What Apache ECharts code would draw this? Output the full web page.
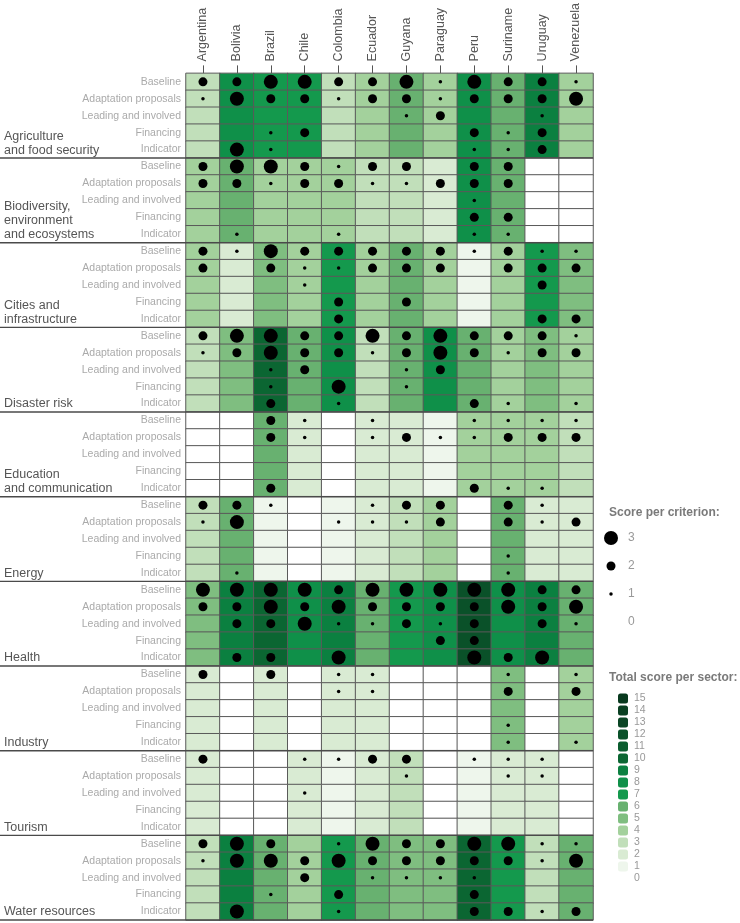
<!DOCTYPE html>
<html>
<head>
<meta charset="utf-8">
<script src="https://cdn.jsdelivr.net/npm/echarts@6/dist/echarts.min.js"></script>
<style>
  body { margin: 0; background: #fff; }
  #chart { width: 740px; height: 923px; }
</style>
</head>
<body>
<div id="chart"></div>
<script>
const countries = ['Argentina', 'Bolivia', 'Brazil', 'Chile', 'Colombia', 'Ecuador', 'Guyana',
    'Paraguay', 'Peru', 'Suriname', 'Uruguay', 'Venezuela'];
const criteria = ['Baseline', 'Adaptation proposals', 'Leading and involved', 'Financing', 'Indicator'];
const sectorNames = [
    ['Agriculture', 'and food security'],
    ['Biodiversity,', 'environment', 'and ecosystems'],
    ['Cities and', 'infrastructure'],
    ['Disaster risk'],
    ['Education', 'and communication'],
    ['Energy'],
    ['Health'],
    ['Industry'],
    ['Tourism'],
    ['Water resources']
];

// score per criterion (0-3), rows = criteria, columns = countries
const agricultureDots = [
    [2, 2, 3, 3, 2, 2, 3, 1, 3, 2, 2, 1],
    [1, 3, 2, 2, 1, 2, 2, 1, 2, 2, 2, 3],
    [0, 0, 0, 0, 0, 0, 1, 2, 0, 0, 1, 0],
    [0, 0, 1, 2, 0, 0, 0, 0, 2, 1, 2, 0],
    [0, 3, 1, 0, 0, 0, 0, 0, 1, 1, 2, 0]
];
const biodiversityDots = [
    [2, 3, 3, 2, 1, 2, 2, 0, 2, 2, 0, 0],
    [2, 2, 1, 2, 2, 1, 1, 2, 2, 2, 0, 0],
    [0, 0, 0, 0, 0, 0, 0, 0, 1, 0, 0, 0],
    [0, 0, 0, 0, 0, 0, 0, 0, 2, 2, 0, 0],
    [0, 1, 0, 0, 1, 0, 0, 0, 1, 1, 0, 0]
];
const citiesDots = [
    [2, 1, 3, 2, 2, 2, 2, 2, 1, 2, 1, 1],
    [2, 0, 2, 1, 1, 2, 2, 2, 0, 2, 2, 2],
    [0, 0, 0, 1, 0, 0, 0, 0, 0, 0, 2, 0],
    [0, 0, 0, 0, 2, 0, 2, 0, 0, 0, 0, 0],
    [0, 0, 0, 0, 2, 0, 0, 0, 0, 0, 2, 2]
];
const disasterDots = [
    [2, 3, 3, 2, 2, 3, 2, 3, 2, 2, 2, 1],
    [1, 2, 3, 2, 2, 1, 2, 3, 2, 1, 2, 2],
    [0, 0, 1, 2, 0, 0, 1, 2, 0, 0, 0, 0],
    [0, 0, 1, 0, 3, 0, 1, 0, 0, 0, 0, 0],
    [0, 0, 2, 0, 1, 0, 0, 0, 2, 1, 0, 1]
];
const educationDots = [
    [0, 0, 2, 1, 0, 1, 0, 0, 1, 1, 1, 1],
    [0, 0, 2, 1, 0, 1, 2, 1, 1, 2, 2, 2],
    [0, 0, 0, 0, 0, 0, 0, 0, 0, 0, 0, 0],
    [0, 0, 0, 0, 0, 0, 0, 0, 0, 0, 0, 0],
    [0, 0, 2, 0, 0, 0, 0, 0, 2, 1, 1, 0]
];
const energyDots = [
    [2, 2, 1, 0, 0, 1, 2, 2, 0, 2, 1, 0],
    [1, 3, 0, 0, 1, 1, 1, 2, 0, 2, 1, 2],
    [0, 0, 0, 0, 0, 0, 0, 0, 0, 0, 0, 0],
    [0, 0, 0, 0, 0, 0, 0, 0, 0, 1, 0, 0],
    [0, 1, 0, 0, 0, 0, 0, 0, 0, 1, 0, 0]
];
const healthDots = [
    [3, 3, 3, 3, 2, 3, 3, 3, 3, 3, 2, 2],
    [2, 2, 3, 2, 3, 2, 2, 2, 2, 3, 2, 3],
    [0, 2, 2, 3, 1, 1, 2, 1, 2, 0, 2, 1],
    [0, 0, 0, 0, 0, 0, 0, 2, 2, 0, 0, 0],
    [0, 2, 2, 0, 3, 0, 0, 0, 3, 2, 3, 0]
];
const industryDots = [
    [2, 0, 2, 0, 1, 1, 0, 0, 0, 1, 0, 1],
    [0, 0, 0, 0, 1, 1, 0, 0, 0, 2, 0, 2],
    [0, 0, 0, 0, 0, 0, 0, 0, 0, 0, 0, 0],
    [0, 0, 0, 0, 0, 0, 0, 0, 0, 1, 0, 0],
    [0, 0, 0, 0, 0, 0, 0, 0, 0, 1, 0, 1]
];
const tourismDots = [
    [2, 0, 0, 1, 1, 2, 2, 0, 1, 1, 1, 0],
    [0, 0, 0, 0, 0, 0, 1, 0, 0, 1, 1, 0],
    [0, 0, 0, 1, 0, 0, 0, 0, 0, 0, 0, 0],
    [0, 0, 0, 0, 0, 0, 0, 0, 0, 0, 0, 0],
    [0, 0, 0, 0, 0, 0, 0, 0, 0, 0, 0, 0]
];
const waterDots = [
    [2, 3, 2, 0, 1, 3, 2, 2, 3, 3, 1, 1],
    [1, 3, 3, 2, 3, 2, 2, 2, 2, 2, 1, 3],
    [0, 0, 0, 2, 0, 1, 1, 1, 1, 0, 0, 0],
    [0, 0, 1, 0, 2, 0, 0, 0, 2, 0, 0, 0],
    [0, 3, 0, 0, 1, 0, 0, 0, 2, 2, 1, 2]
];

// total score per sector (0-15), one value per country
const agricultureTotal = [3, 8, 7, 7, 3, 4, 6, 4, 8, 6, 9, 4];
const biodiversityTotal = [4, 6, 4, 4, 4, 3, 3, 2, 8, 6, 0, 0];
const citiesTotal = [4, 2, 5, 4, 7, 4, 6, 4, 1, 4, 7, 5];
const disasterTotal = [3, 5, 10, 6, 8, 3, 6, 8, 6, 4, 5, 4];
const educationTotal = [0, 0, 6, 2, 0, 2, 2, 1, 4, 4, 4, 3];
const energyTotal = [3, 6, 1, 0, 1, 2, 3, 4, 0, 6, 2, 2];
const healthTotal = [5, 9, 10, 8, 9, 6, 7, 8, 12, 8, 9, 6];
const industryTotal = [2, 0, 2, 0, 2, 2, 0, 0, 0, 5, 0, 4];
const tourismTotal = [2, 0, 0, 2, 1, 2, 3, 0, 1, 2, 2, 0];
const waterTotal = [3, 9, 6, 4, 7, 6, 5, 5, 10, 7, 3, 6];

const legendScores = ['3', '2', '1', '0'];

const sectorDots = [agricultureDots, biodiversityDots, citiesDots, disasterDots, educationDots,
    energyDots, healthDots, industryDots, tourismDots, waterDots];
const sectorTotals = [agricultureTotal, biodiversityTotal, citiesTotal, disasterTotal, educationTotal,
    energyTotal, healthTotal, industryTotal, tourismTotal, waterTotal];

const scoreColors = ['#ffffff', '#eef6ec', '#d9ebd3', '#c1dfba', '#a3d19c', '#7fbe80', '#68b170',
    '#14994d', '#0f9049', '#0b8040', '#0b6632', '#0a5c2e', '#0a5129', '#0a4524', '#093f21', '#08391e'];
const dotSizes = [0, 3.5, 9, 14];

let rowIds = [];
let heatData = [];
let dotData = [];
sectorNames.forEach((lines, s) => {
    criteria.forEach((c, k) => {
        let row = s * criteria.length + k;
        rowIds.push(s + '|' + k);
        countries.forEach((country, i) => {
            heatData.push([i, row, sectorTotals[s][i]]);
            let v = sectorDots[s][k][i];
            if (v > 0) dotData.push([i, row, v]);
        });
    });
});

let chart = echarts.init(document.getElementById('chart'));

let option = {
    animation: false,
    textStyle: { fontFamily: 'Liberation Sans, Arial, sans-serif' },
    title: [
        {
            text: 'Score per criterion:', left: 604, top: 502,
            textStyle: { fontSize: 12, fontWeight: 'bold', color: '#7a7a7a' }
        },
        {
            text: 'Total score per sector:', left: 604, top: 667,
            textStyle: { fontSize: 12, fontWeight: 'bold', color: '#7a7a7a' }
        }
    ],
    grid: [
        { left: 186, right: 147, top: 69, bottom: 3 },
        { left: 603, top: 524, width: 16, height: 112 }
    ],
    xAxis: [
        {
            type: 'category',
            data: countries,
            position: 'top',
            gridIndex: 0,
            axisLine: { show: false },
            axisTick: { show: true, alignWithLabel: true, length: 8, lineStyle: { color: '#555' } },
            axisLabel: { rotate: -90, margin: 12, fontSize: 12.5, color: '#555', interval: 0 },
            splitLine: { show: false }
        },
        {
            type: 'category', data: ['s'], gridIndex: 1, show: false
        }
    ],
    yAxis: [
        {
            type: 'category',
            data: rowIds,
            inverse: true,
            gridIndex: 0,
            axisLine: { show: false },
            axisTick: { show: false },
            axisLabel: {
                interval: 0, margin: 5, fontSize: 10.5, color: '#aaa',
                formatter: (id) => criteria[Number(id.split('|')[1])]
            }
        },
        {
            type: 'category',
            data: legendScores,
            inverse: true,
            gridIndex: 1,
            position: 'right',
            axisLine: { show: false },
            axisTick: { show: false },
            axisLabel: { margin: 9, fontSize: 12, color: '#999' }
        }
    ],
    visualMap: {
        type: 'piecewise',
        seriesIndex: 0,
        dimension: 2,
        orient: 'vertical',
        align: 'left',
        left: 618,
        top: 693,
        padding: 0,
        itemWidth: 10,
        itemHeight: 10,
        itemGap: 1.0,
        textGap: 6,
        selectedMode: false,
        hoverLink: false,
        textStyle: { color: '#999', fontSize: 10.5, lineHeight: 10 },
        pieces: scoreColors.map((color, v) => ({ value: v, label: String(v), color: color }))
    },
    series: [
        {
            type: 'heatmap',
            xAxisIndex: 0,
            yAxisIndex: 0,
            data: heatData,
            itemStyle: { borderColor: '#5a5a5a', borderWidth: 1 },
            emphasis: { disabled: true }
        },
        {
            type: 'scatter',
            xAxisIndex: 0,
            yAxisIndex: 0,
            data: dotData,
            symbolSize: (val) => dotSizes[val[2]],
            itemStyle: { color: '#000', opacity: 1 },
            z: 5
        },
        {
            type: 'scatter',
            xAxisIndex: 1,
            yAxisIndex: 1,
            data: legendScores.map(s => [0, s, Number(s)]),
            symbolSize: (val) => dotSizes[val[2]],
            itemStyle: { color: '#000', opacity: 1 }
        }
    ]
};

chart.setOption(option);

// sector dividers and sector names, placed from the y axis scale
function drawSectors() {
    let c0 = chart.convertToPixel({ yAxisIndex: 0 }, 0);
    let c1 = chart.convertToPixel({ yAxisIndex: 0 }, 1);
    let rowH = c1 - c0;
    let x0 = chart.convertToPixel({ xAxisIndex: 0 }, 0);
    let x1 = chart.convertToPixel({ xAxisIndex: 0 }, 1);
    let right = chart.convertToPixel({ xAxisIndex: 0 }, countries.length - 1) + (x1 - x0) / 2;

    let items = [];
    sectorNames.forEach((lines, s) => {
        let y = chart.convertToPixel({ yAxisIndex: 0 }, s * criteria.length + criteria.length - 1) + rowH / 2;
        items.push({
            type: 'line',
            shape: { x1: 0, y1: y, x2: right, y2: y },
            style: { stroke: '#4a4a4a', lineWidth: 1.4 },
            z: 10
        });
        items.push({
            type: 'text',
            x: 4,
            y: y - 1,
            style: {
                text: lines.join('\n'),
                fill: '#555',
                fontSize: 12.5,
                lineHeight: 14,
                fontFamily: 'Liberation Sans, Arial, sans-serif',
                verticalAlign: 'bottom',
                align: 'left'
            },
            z: 10
        });
    });
    chart.setOption({ graphic: items });
}

drawSectors();
</script>
</body>
</html>
